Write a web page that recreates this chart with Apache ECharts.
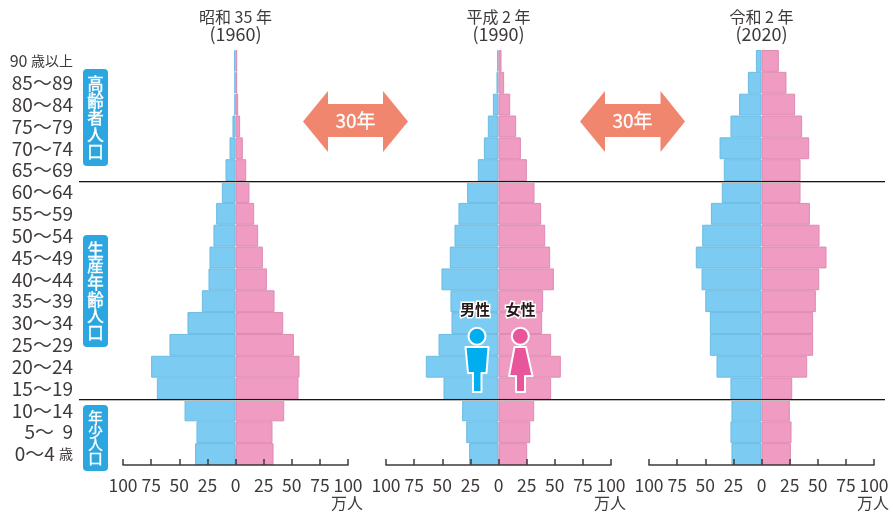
<!DOCTYPE html>
<html><head><meta charset="utf-8">
<style>html,body{margin:0;padding:0;background:#fff}#c{width:893px;height:514px}</style>
<script src="https://cdn.jsdelivr.net/npm/echarts@6/dist/echarts.min.js"></script>
</head><body><div id="c"></div>
<script>
const ageLabels = ['90 歳以上','85〜89','80〜84','75〜79','70〜74','65〜69','60〜64','55〜59','50〜54','45〜49','40〜44','35〜39','30〜34','25〜29','20〜24','15〜19','10〜14','5〜  9','0〜4 歳'];
const male1960 = [1.2,1,1,2.7,5.3,8.9,12.1,17.2,19.6,23.1,24,29.9,42.7,58.7,75,69.9,45.3,34.7,35.9];
const female1960 = [1.5,1.5,2.4,4.1,6.5,9.5,12.4,16.6,20.1,24.3,27.9,34.7,42.4,51.9,56.9,56,43.3,32.9,33.8];
const male1990 = [1.2,1.8,5,9.5,13,18.4,27.9,35.6,39.1,43.3,50.7,42.7,41.8,53.3,64.6,48.9,32.3,28.7,26.1];
const female1990 = [2.7,5,10.4,15.7,19.9,25.2,32,37.9,41.5,45.9,49.2,39.7,38.8,46.8,55.4,46.8,31.7,28.2,25.5];
const male2020 = [5,12.1,19.9,27.6,37.3,33.5,35.3,45,52.7,58.4,53.3,50,45.9,45.9,40,27.6,26.7,27.6,26.7];
const female2020 = [15.4,22.2,29.9,36.1,42.4,34.7,34.7,43,51.6,57.8,51.3,48.3,45.9,45.9,40.6,27.3,25.2,26.7,26.1];
const panelTitles = ['昭和 35 年','平成 2 年','令和 2 年'];
const panelYears = ['(1960)','(1990)','(2020)'];
const unitLabel = '万人';
const spanLabel = '30年';
const groupLabels = [['高齢者人口',83,69,97,16.5],['生産年齢人口',83,235,112,16.5],['年少人口',83,405,66,14.5]];

const FONT = '"Noto Sans CJK JP","Noto Sans",sans-serif';
const INK = '#3e3a39';
const panels = [[123,male1960,female1960],[386,male1990,female1990],[649,male2020,female2020]];
const TOP = 50, H = 415, W = 225;
const grids=[],xAxes=[],yAxes=[],series=[],graphic=[];

panels.forEach(([left,m,f],i)=>{
  grids.push({left,top:TOP,width:W,height:H,containLabel:false});
  xAxes.push({gridIndex:i,type:'value',min:-100,max:100,interval:25,z:5,
    axisLine:{show:true,onZero:false,lineStyle:{color:INK,width:1.5}},
    axisTick:{show:true,inside:true,length:6,lineStyle:{color:INK,width:1.5}},
    splitLine:{show:false},
    axisLabel:{show:true,margin:12,fontSize:17.5,color:INK,fontFamily:FONT,hideOverlap:false,
      showMinLabel:true,showMaxLabel:true,formatter:v=>String(Math.abs(v))}});
  yAxes.push({gridIndex:i,type:'category',inverse:true,data:ageLabels,
    axisLine:{show:false},axisTick:{show:false},splitLine:{show:false},
    axisLabel:i===0?{show:true,interval:0,margin:50,align:'right',fontSize:19,color:INK,fontFamily:FONT,
      formatter:v=>v==='90 歳以上'?'{s|90 }{k|歳以上}':v.replace('歳','{k|歳}'),
      rich:{s:{fontSize:16,color:INK,fontFamily:FONT},k:{fontSize:14,color:INK,fontFamily:FONT}}}:{show:false}});
  series.push({type:'bar',name:'男性',xAxisIndex:i,yAxisIndex:i,data:m.map(v=>-v),barWidth:'100%',barGap:'-100%',
    itemStyle:{color:'#7ccbf2',borderColor:'#6cbbe2',borderWidth:1},silent:true,animation:false});
  series.push({type:'bar',name:'女性',xAxisIndex:i,yAxisIndex:i,data:f,barWidth:'100%',barGap:'-100%',
    itemStyle:{color:'#f09bc1',borderColor:'#dc8bb2',borderWidth:1},silent:true,animation:false});
  const cx=left+W/2;
  graphic.push({type:'text',x:cx,y:16.5,z:20,style:{text:panelTitles[i],fill:INK,font:'16px '+FONT,align:'center',verticalAlign:'middle'}});
  graphic.push({type:'text',x:cx,y:34.5,z:20,style:{text:panelYears[i],fill:INK,font:'18px '+FONT,align:'center',verticalAlign:'middle'}});
  graphic.push({type:'text',x:left+W-1,y:495,z:20,style:{text:unitLabel,fill:INK,font:'16px '+FONT,align:'center',verticalAlign:'top'}});
});

// age-group divider lines
const rowH = H/ageLabels.length;
[6,16].forEach(n=>{
  const y=Math.round(TOP+n*rowH)+0.5;
  graphic.push({type:'line',z:10,shape:{x1:79,y1:y+1,x2:885,y2:y+1},style:{stroke:'#bdb9b6',lineWidth:1}});
  graphic.push({type:'line',z:11,shape:{x1:79,y1:y,x2:885,y2:y},style:{stroke:'#1a1311',lineWidth:1.2}});
});

// age-group tags
groupLabels.forEach(([t,x,y,h,fs])=>{
  graphic.push({type:'rect',z:12,shape:{x,y,width:25,height:h,r:4},style:{fill:'#2ca6e0'}});
  const ch=[...t],step=(h-12)/ch.length;
  ch.forEach((c,k)=>graphic.push({type:'text',z:13,x:x+12.5,y:y+6+step*(k+.5),
    style:{text:c,fill:'#fff',stroke:'#fff',lineWidth:0.4,font:fs+'px '+FONT,align:'center',verticalAlign:'middle'}}));
});

// 30-year arrows
[[303,328,383,408],[580,605,660.5,685]].forEach(([a,b,c,d])=>{
  graphic.push({type:'polygon',z:12,shape:{points:[[a,121.5],[b,91],[b,104],[c,104],[c,91],[d,121.5],[c,152],[c,137],[b,137],[b,152]]},style:{fill:'#f0866d'}});
  graphic.push({type:'text',z:13,x:(a+d)/2,y:121,style:{text:spanLabel,fill:'#fff',stroke:'#fff',lineWidth:0.3,font:'19px '+FONT,align:'center',verticalAlign:'middle'}});
});

// figures
const figStroke={stroke:'#fff',lineWidth:2};
graphic.push({type:'circle',z:14,shape:{cx:477,cy:336.3,r:8.5},style:{fill:'#00aeef',...figStroke}});
graphic.push({type:'polygon',z:14,shape:{points:[[465.5,347],[488.5,347],[486.5,373],[481.5,373],[481.5,392],[473,392],[473,373],[468,373]]},style:{fill:'#00aeef',...figStroke,lineJoin:'round'}});
graphic.push({type:'circle',z:14,shape:{cx:520.3,cy:336.3,r:8.5},style:{fill:'#e9559b',...figStroke}});
graphic.push({type:'polygon',z:14,shape:{points:[[514.5,347],[526,347],[532.5,376],[525,376],[525,392],[516,392],[516,376],[509,376]]},style:{fill:'#e9559b',...figStroke,lineJoin:'round'}});
[['男性',475],['女性',520.5]].forEach(([t,x])=>graphic.push({type:'text',z:15,x,y:309.5,
  style:{text:t,fill:'#231815',stroke:'#fff',lineWidth:3,font:'bold 15px '+FONT,align:'center',verticalAlign:'middle'}}));

const chart=echarts.init(document.getElementById('c'),null,{renderer:'canvas'});
chart.setOption({animation:false,backgroundColor:'#fff',grid:grids,xAxis:xAxes,yAxis:yAxes,series,graphic});
</script></body></html>
